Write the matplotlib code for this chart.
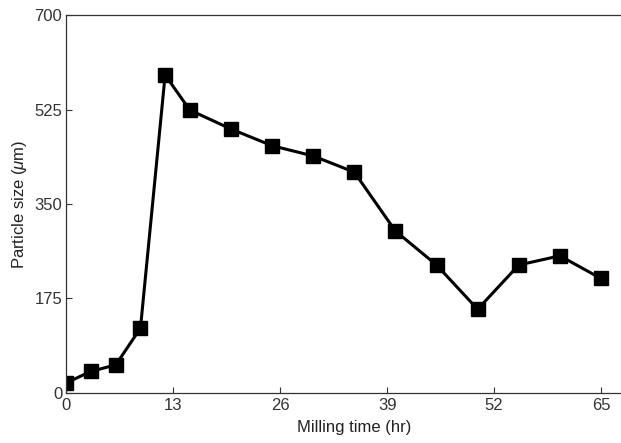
import matplotlib
matplotlib.use("Agg")
import matplotlib.pyplot as plt

# Milling time (hr) vs particle size (um)
milling_time = [0, 3, 6, 9, 12, 15, 20, 25, 30, 35, 40, 45, 50, 55, 60, 65]
particle_size = [19, 40, 52, 120, 589, 524, 489, 458, 439, 409, 300, 237, 155, 237, 254, 212]

x_ticks = [0, 13, 26, 39, 52, 65]
y_ticks = [0, 175, 350, 525, 700]

plt.rcParams['font.family'] = ['Liberation Sans', 'DejaVu Sans']
plt.rcParams['mathtext.fontset'] = 'custom'
plt.rcParams['mathtext.it'] = 'Liberation Sans:italic'

fig = plt.figure(figsize=(6.21, 4.43), dpi=100)
# axes runs past the right edge of the picture (it is cropped there)
ax = fig.add_axes([0.107, 0.113, 0.927, 0.853])

ax.plot(milling_time, particle_size, color='black', linewidth=2.2,
        marker='s', markersize=9.5, markerfacecolor='black', markeredgecolor='black')

ax.set_xlim(0, 70)
ax.set_ylim(0, 700)
ax.set_xticks(x_ticks)
ax.set_yticks(y_ticks)
ax.tick_params(direction='in', length=4, width=0.8, labelsize=12, colors='#333333')
ax.tick_params(axis='x', pad=4)
ax.tick_params(axis='y', pad=3)
for s in ax.spines.values():
    s.set_linewidth(0.9)
    s.set_color('#333333')

ax.set_xlabel('Milling time (hr)', fontsize=12, labelpad=5, color='#222222')
ax.set_ylabel(r'Particle size ($\mu$m)', fontsize=12, labelpad=4, color='#222222')

fig.savefig('out.png', dpi=100)
